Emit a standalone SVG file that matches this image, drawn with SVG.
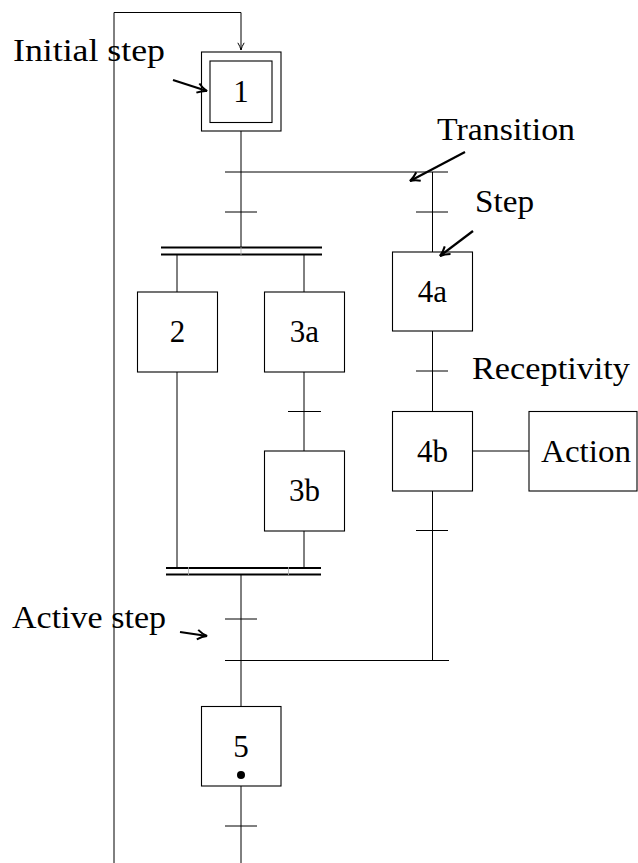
<svg xmlns="http://www.w3.org/2000/svg" width="638" height="863" viewBox="0 0 638 863">
  <style>
    .ln { stroke: #000; stroke-width: 1; fill: none; }
    .box { stroke: #000; stroke-width: 1.1; fill: #fff; }
    .bar { stroke: #000; stroke-width: 2.2; fill: none; }
    .seam { stroke: #aaa; stroke-width: 0.8; }
    .tick { stroke: #000; stroke-width: 1; }
    .ptr { stroke: #000; stroke-width: 2.2; fill: none; marker-end: url(#ptrHead); }
    .lbl { font-family: "Liberation Serif", "DejaVu Serif", serif; font-size: 31px; fill: #000; }
    .num { font-family: "Liberation Serif", "DejaVu Serif", serif; font-size: 31px; fill: #000; text-anchor: middle; }
  </style>
  <defs>
    <marker id="ptrHead" viewBox="0 0 10 10" refX="9" refY="5" markerWidth="12" markerHeight="12" orient="auto" markerUnits="userSpaceOnUse">
      <path d="M1,1 Q5,4 9,5 Q5,6 1,9" fill="none" stroke="#000" stroke-width="1.7"/>
    </marker>
    <marker id="loopHead" viewBox="0 0 10 10" refX="9" refY="5" markerWidth="9" markerHeight="9" orient="auto" markerUnits="userSpaceOnUse">
      <path d="M1,1.5 Q5,4 9,5 Q5,6 1,8.5" fill="none" stroke="#000" stroke-width="1.1"/>
    </marker>
  </defs>

  <!-- links, transitions and synchronisation bars -->
  <g id="connectors">
    <!-- return loop to the initial step -->
    <path class="ln" d="M114,863 V12.5 H241 V50" marker-end="url(#loopHead)"/>
    <!-- step 1 to divergence -->
    <line class="ln" x1="241" y1="131" x2="241" y2="247"/>
    <line class="ln" x1="225" y1="172" x2="448" y2="172"/>
    <line class="tick" x1="225" y1="212" x2="257" y2="212"/>
    <!-- simultaneous divergence bar -->
    <line class="bar" x1="161" y1="247.5" x2="322" y2="247.5"/>
    <line class="bar" x1="161" y1="254.5" x2="322" y2="254.5"/>
    <line class="seam" x1="241" y1="247" x2="241" y2="255"/>
    <line class="ln" x1="177" y1="255" x2="177" y2="292"/>
    <line class="ln" x1="304" y1="255" x2="304" y2="292"/>
    <!-- left branch -->
    <line class="ln" x1="177" y1="372" x2="177" y2="568"/>
    <line class="ln" x1="304" y1="372" x2="304" y2="451"/>
    <line class="tick" x1="288" y1="411.5" x2="321" y2="411.5"/>
    <line class="ln" x1="304" y1="531" x2="304" y2="568"/>
    <!-- simultaneous convergence bar -->
    <line class="bar" x1="166" y1="568" x2="321" y2="568"/>
    <line class="bar" x1="166" y1="574.5" x2="321" y2="574.5"/>
    <line class="seam" x1="188.5" y1="567" x2="188.5" y2="575"/>
    <line class="seam" x1="288.5" y1="567" x2="288.5" y2="575"/>
    <line class="ln" x1="241" y1="575" x2="241" y2="706.5"/>
    <line class="tick" x1="225" y1="619" x2="257" y2="619"/>
    <line class="ln" x1="225" y1="660.5" x2="449" y2="660.5"/>
    <!-- right branch -->
    <line class="ln" x1="432.5" y1="172" x2="432.5" y2="252"/>
    <line class="tick" x1="416" y1="212" x2="448" y2="212"/>
    <line class="ln" x1="432.5" y1="331" x2="432.5" y2="411"/>
    <line class="tick" x1="416" y1="371" x2="448" y2="371"/>
    <line class="ln" x1="432.5" y1="491" x2="432.5" y2="660.5"/>
    <line class="tick" x1="416" y1="530.5" x2="448" y2="530.5"/>
    <!-- action link -->
    <line class="ln" x1="472" y1="451" x2="529" y2="451"/>
    <!-- after step 5 -->
    <line class="ln" x1="241" y1="786" x2="241" y2="863"/>
    <line class="tick" x1="225" y1="826" x2="257" y2="826"/>
  </g>

  <g id="step1">
    <rect class="box" x="201.5" y="52" width="79.5" height="79"/>
    <rect class="box" x="210" y="61" width="62" height="61.5"/>
    <text class="num" x="241" y="102">1</text>
  </g>
  <g id="step2">
    <rect class="box" x="137.5" y="292" width="80" height="80"/>
    <text class="num" x="177.5" y="342">2</text>
  </g>
  <g id="step3a">
    <rect class="box" x="264.5" y="292" width="80" height="80"/>
    <text class="num" x="304.5" y="342">3a</text>
  </g>
  <g id="step3b">
    <rect class="box" x="264.5" y="451" width="80" height="80"/>
    <text class="num" x="304.5" y="501">3b</text>
  </g>
  <g id="step4a">
    <rect class="box" x="392.5" y="252" width="80" height="79"/>
    <text class="num" x="432.5" y="302">4a</text>
  </g>
  <g id="step4b">
    <rect class="box" x="392.5" y="411.5" width="80" height="79.5"/>
    <text class="num" x="432.5" y="462">4b</text>
  </g>
  <g id="action">
    <rect class="box" x="529" y="411.5" width="108" height="79.5"/>
    <text class="lbl" x="541" y="462" textLength="90" lengthAdjust="spacingAndGlyphs">Action</text>
  </g>
  <g id="step5">
    <rect class="box" x="201.5" y="706.5" width="79.5" height="79.5"/>
    <text class="num" x="241" y="757">5</text>
    <circle cx="241" cy="775" r="4" fill="#000"/>
  </g>

  <!-- annotations -->
  <g id="annotations">
    <text class="lbl" x="13" y="61" textLength="152" lengthAdjust="spacingAndGlyphs">Initial step</text>
    <line class="ptr" x1="173" y1="80" x2="207" y2="91"/>
    <text class="lbl" x="437" y="140" textLength="138" lengthAdjust="spacingAndGlyphs">Transition</text>
    <line class="ptr" x1="465" y1="152" x2="410" y2="181"/>
    <text class="lbl" x="475" y="212" textLength="59" lengthAdjust="spacingAndGlyphs">Step</text>
    <line class="ptr" x1="473" y1="231" x2="440" y2="256"/>
    <text class="lbl" x="472" y="379" textLength="158" lengthAdjust="spacingAndGlyphs">Receptivity</text>
    <text class="lbl" x="12" y="628" textLength="154" lengthAdjust="spacingAndGlyphs">Active step</text>
    <line class="ptr" x1="180" y1="632" x2="207" y2="636"/>
  </g>
</svg>
